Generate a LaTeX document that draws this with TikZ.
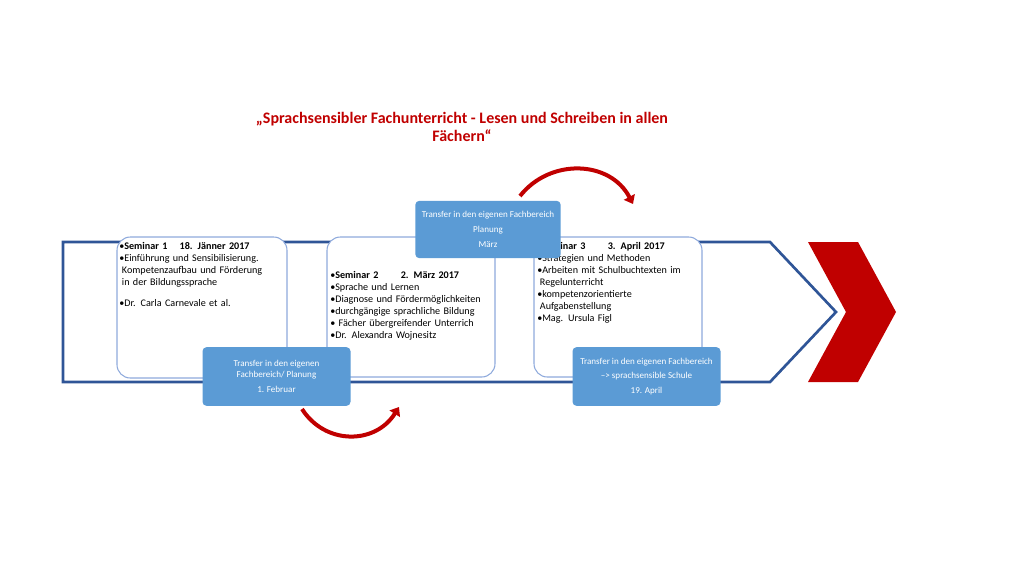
\documentclass[tikz,border=0pt]{standalone}
\usepackage{fontspec}
\setmainfont{Carlito}
\usetikzlibrary{arrows.meta,positioning,calc}
\definecolor{outline}{HTML}{2F5597}
\definecolor{pale}{HTML}{8FAADC}
\definecolor{transfer}{HTML}{5B9BD5}
\definecolor{darkred}{HTML}{C00000}
\begin{document}
\begin{tikzpicture}[x=0.75pt,y=-0.75pt,
  seminar/.style={draw=pale,fill=white,rounded corners=10pt,thick},
  transferbox/.style={fill=transfer,rounded corners=3pt,text=white,font=\fontsize{6.8}{11}\selectfont,align=center,inner sep=2pt},
  bullets/.style={anchor=north west,text width=118pt,align=left,font=\fontsize{7.6}{9}\selectfont,inner sep=0pt},
  loop/.style={line width=3pt,draw=darkred,-{Triangle[length=6pt,width=9pt]}}]
\useasboundingbox (0,0) rectangle (1024,576);
% process arrow
\draw[outline,line width=2pt] (63,242) -- (770,242) -- (836,312) -- (770,382) -- (63,382) -- cycle;
\fill[darkred] (808,242) -- (858,242) -- (896,312) -- (858,382) -- (808,382) -- (846,312) -- cycle;
% title
\node (title) at (462,127) [text=darkred,font=\bfseries\fontsize{12}{14}\selectfont,align=center]
  {„Sprachsensibler Fachunterricht - Lesen und Schreiben in allen\\Fächern“};
% seminars
\draw[seminar] (117,237) rectangle (287,378);
\draw[seminar] (327,237) rectangle (495,377);
\draw[seminar] (534,237) rectangle (702,377);
\node (s1) at (119,242) [bullets] {%
  •\textbf{Seminar 1\hspace{1.2em}18. Jänner 2017}\\
  •Einführung und Sensibilisierung.\\
  \hspace*{2pt}Kompetenzaufbau und Förderung\\
  \hspace*{2pt}in der Bildungssprache\\[7pt]
  •Dr. Carla Carnevale et al.};
\node (s2) at (330,271) [bullets] {%
  •\textbf{Seminar 2\hspace{2.2em}2. März 2017}\\
  •Sprache und Lernen\\
  •Diagnose und Fördermöglichkeiten\\
  •durchgängige sprachliche Bildung\\
  • Fächer übergreifender Unterrich\\
  •Dr. Alexandra Wojnesitz};
\node (s3) at (537,242) [bullets] {%
  •\textbf{Seminar 3\hspace{2.2em}3. April 2017}\\
  •Strategien und Methoden\\
  •Arbeiten mit Schulbuchtexten im\\
  \hspace*{2pt}Regelunterricht\\
  •kompetenzorientierte\\
  \hspace*{2pt}Aufgabenstellung\\
  •Mag. Ursula Figl};
% transfer boxes
\node (t1) at (276.5,376.5) [transferbox,minimum width=111pt,minimum height=44pt] {Transfer in den eigenen\\[-3pt]Fachbereich/ Planung\\1. Februar};
\node (t2) at (488,229.5) [transferbox,minimum width=109pt,minimum height=43pt] {Transfer in den eigenen Fachbereich\\Planung\\März};
\node (t3) at (646.5,376.5) [transferbox,minimum width=111pt,minimum height=44pt] {Transfer in den eigenen Fachbereich\\--> sprachsensible Schule\\19. April};
% loops
\coordinate (b1) at (302,409); \coordinate (b2) at (399,407);
\coordinate (a1) at (520,196); \coordinate (a2) at (633,204);
\draw[loop] (b1) .. controls (325,445) and (375,445) .. (b2);
\draw[loop] (a1) .. controls (550,158) and (610,160) .. (a2);
\end{tikzpicture}
\end{document}
